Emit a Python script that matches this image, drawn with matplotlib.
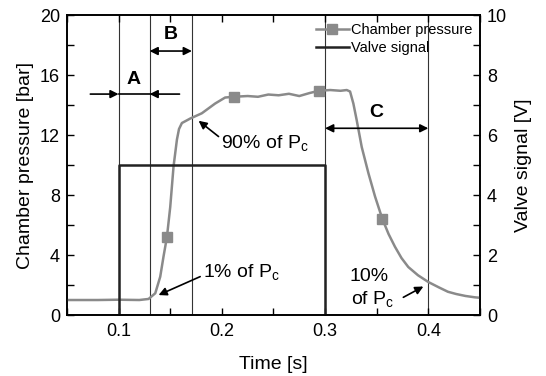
import matplotlib.pyplot as plt
import numpy as np

plt.rcParams['font.family'] = ['Liberation Sans', 'DejaVu Sans']

# Chamber pressure (bar)
time_p = [0.05, 0.08, 0.10, 0.12, 0.129, 0.1355, 0.1403, 0.1435, 0.1468, 0.150,
          0.1532, 0.1565, 0.1585, 0.1613, 0.1694, 0.1806, 0.1935, 0.2032, 0.2113,
          0.225, 0.235, 0.245, 0.255, 0.265, 0.275, 0.285, 0.294, 0.305, 0.315,
          0.321, 0.3242, 0.3274, 0.3306, 0.3355, 0.342, 0.3484, 0.3555, 0.3615,
          0.3677, 0.374, 0.3806, 0.390, 0.400, 0.410, 0.419, 0.427, 0.436, 0.445, 0.45]
pressure = [1.0, 1.0, 1.02, 1.0, 1.07, 1.45, 2.55, 3.9, 5.2, 7.2,
            9.9, 11.7, 12.4, 12.8, 13.1, 13.45, 14.1, 14.5, 14.55,
            14.6, 14.55, 14.7, 14.65, 14.75, 14.6, 14.8, 14.95, 15.0, 14.95,
            15.0, 14.9, 14.1, 13.0, 11.2, 9.45, 7.9, 6.4, 5.4,
            4.55, 3.8, 3.2, 2.65, 2.2, 1.85, 1.55, 1.4, 1.27, 1.18, 1.15]
marker_idx = [8, 18, 26, 36]

# Valve signal (V)
time_v = [0.05, 0.10, 0.10, 0.30, 0.30, 0.45]
valve = [0, 0, 5, 5, 0, 0]

# reference vertical lines
vlines = [0.10, 0.13, 0.171, 0.30, 0.40]

fig = plt.figure(figsize=(5.46, 3.76), dpi=100)
ax = fig.add_axes([0.1227, 0.1622, 0.7563, 0.7978])
ax2 = ax.twinx()

for xv in vlines:
    ax.axvline(xv, color='#333333', lw=0.8, zorder=1)

lp, = ax.plot(time_p, pressure, color='#8a8a8a', lw=1.8, marker='s', ms=7,
              markevery=marker_idx, label='Chamber pressure', zorder=3)
lv, = ax2.plot(time_v, valve, color='#222222', lw=1.8, label='Valve signal', zorder=2)

ax.set_xlim(0.05, 0.45)
ax.set_ylim(0, 20)
ax2.set_ylim(0, 10)
ax.set_xticks([0.1, 0.2, 0.3, 0.4])
ax.set_xticks([0.05, 0.15, 0.25, 0.35, 0.45], minor=True)
ax.set_yticks([0, 4, 8, 12, 16, 20])
ax.set_yticks([2, 6, 10, 14, 18], minor=True)
ax2.set_yticks([0, 2, 4, 6, 8, 10])
ax2.set_yticks([1, 3, 5, 7, 9], minor=True)

ax.tick_params(axis='both', which='both', direction='in', labelsize=13, width=1, length=5)
ax.tick_params(axis='x', which='both', top=True, pad=6)
ax.tick_params(axis='y', which='both', pad=5)
ax2.tick_params(axis='y', which='both', direction='in', labelsize=13, length=5, width=1, pad=5)
for a in (ax, ax2):
    for s in a.spines.values():
        s.set_linewidth(1.2)

ax.set_xlabel('Time [s]', fontsize=14, labelpad=11)
ax.set_ylabel('Chamber pressure [bar]', fontsize=14, labelpad=4)
ax2.set_ylabel('Valve signal [V]', fontsize=14, labelpad=6)

# A / B / C interval markers
arw = dict(arrowstyle='-|>', color='black', lw=1.2, mutation_scale=12, shrinkA=0, shrinkB=0)
dbl = dict(arrowstyle='<|-|>', color='black', lw=1.2, mutation_scale=12, shrinkA=0, shrinkB=0)
ax.plot([0.10, 0.13], [14.73, 14.73], color='black', lw=1.2)
ax.annotate('', xy=(0.10, 14.73), xytext=(0.0726, 14.73), arrowprops=arw)
ax.annotate('', xy=(0.13, 14.73), xytext=(0.159, 14.73), arrowprops=arw)
ax.text(0.1145, 15.7, 'A', fontsize=14, fontweight='bold', ha='center', va='center')
ax.annotate('', xy=(0.13, 17.6), xytext=(0.171, 17.6), arrowprops=dbl)
ax.text(0.1505, 18.7, 'B', fontsize=14, fontweight='bold', ha='center', va='center')
ax.annotate('', xy=(0.30, 12.45), xytext=(0.40, 12.45), arrowprops=dbl)
ax.text(0.35, 13.5, 'C', fontsize=14, fontweight='bold', ha='center', va='center')

# percentage annotations
ax.annotate('', xy=(0.1775, 12.95), xytext=(0.1968, 11.9), arrowprops=arw)
ax.text(0.1995, 11.4, '90% of P$_\\mathregular{c}$', fontsize=14, ha='left', va='center')
ax.annotate('', xy=(0.1387, 1.33), xytext=(0.179, 2.56), arrowprops=arw)
ax.text(0.182, 2.8, '1% of P$_\\mathregular{c}$', fontsize=14, ha='left', va='center')
ax.annotate('', xy=(0.3952, 1.9), xytext=(0.3758, 1.18), arrowprops=arw)
ax.text(0.343, 2.55, '10%', fontsize=14, ha='center', va='center')
ax.text(0.3255, 1.0, 'of P$_\\mathregular{c}$', fontsize=14, ha='left', va='center')

leg = ax.legend(handles=[lp, lv], loc='upper right', frameon=False, fontsize=10.5,
                handlelength=2.3, handletextpad=0.1, labelspacing=0.3,
                borderaxespad=0.15, bbox_to_anchor=(1.0, 1.0))

fig.savefig('out.png', dpi=100)
